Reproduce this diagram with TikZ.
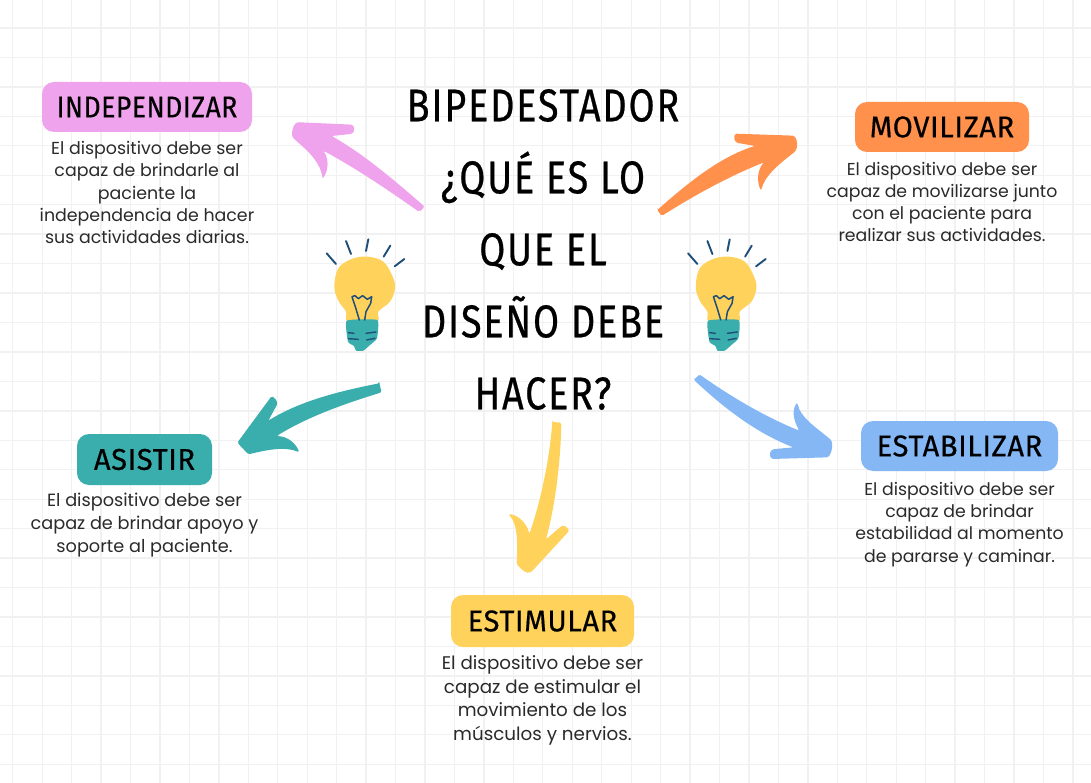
\documentclass[tikz,border=0pt]{standalone}
\usepackage{fontspec}
\setmainfont{Poppins}
\newfontfamily\headfont[FakeStretch=0.97,LetterSpace=2,FakeBold=0.5]{Fira Sans}
\newfontfamily\headnarrowfont[FakeStretch=0.88,LetterSpace=2,FakeBold=0.5]{Fira Sans}
\newfontfamily\titlefont[FakeStretch=0.82,LetterSpace=4,FakeBold=0.5]{Fira Sans}
\definecolor{gridc}{HTML}{F1F1F1}
\definecolor{pinkc}{HTML}{EFA3EC}
\definecolor{orangec}{HTML}{FF914D}
\definecolor{tealc}{HTML}{3AADAD}
\definecolor{yellowc}{HTML}{FFD25C}
\definecolor{bluec}{HTML}{85B7F5}
\definecolor{darkb}{HTML}{1F4E79}
\definecolor{bodyc}{HTML}{2A2A2A}
\tikzset{
  labelbox/.style={rounded corners=12pt,minimum height=50pt,inner sep=0pt,anchor=center,
    font=\headfont\fontsize{30}{30}\selectfont,text=black},
  bodytext/.style 2 args={align=center,font=\fontsize{#1}{#2}\selectfont,text=bodyc,inner sep=0pt,anchor=center},
  titletext/.style={align=center,font=\titlefont\fontsize{46}{72}\selectfont,text=black,inner sep=0pt,anchor=center},
  zoomed/.style={x=0.33333pt,y=-0.33333pt},
  raystroke/.style={draw=darkb,line width=1.9pt,line cap=round,line join=round},
  bulbicon/.pic={
    \begin{scope}[zoomed]
      \fill[yellowc] plot[smooth cycle,tension=0.6] coordinates {(205,725) (198,695) (175,662) (163,620) (175,565) (215,537) (262,530) (310,545) (338,590) (345,625) (330,665) (295,695) (290,725)};
      \fill[tealc] plot[smooth cycle,tension=0.25] coordinates {(200,722) (292,720) (291,775) (270,795) (250,812) (228,812) (222,798) (204,785)};
      \draw[raystroke] (140,520) -- (168,552);
      \draw[raystroke] (198,483) -- (213,522);
      \draw[raystroke] (265,478) -- (258,513);
      \draw[raystroke] (331,497) -- (311,530);
      \draw[raystroke] (373,537) -- (344,559);
      \draw[raystroke,line width=1.5pt] (238,720) -- (226,680) -- (216,650) -- (225,647) -- (235,656) -- (248,647) -- (262,658) -- (275,650) -- (272,670) -- (258,695) -- (254,720);
      \draw[raystroke,line width=1.4pt] (205,758) -- (222,760);
      \draw[raystroke,line width=1.4pt] (258,760) -- (288,756);
      \draw[raystroke,line width=1.4pt] (205,776) -- (235,778);
      \draw[raystroke,line width=1.4pt] (260,780) -- (285,775);
    \end{scope}
  }
}
\begin{document}
\begin{tikzpicture}[x=1pt,y=-1pt]
\useasboundingbox (0,0) rectangle (1091,783);
\fill[white] (0,0) rectangle (1091,783);
% grid
\foreach \i in {0,...,36} \draw[gridc,line width=1.3pt] ({12.7+29.45*\i},0) -- ({12.7+29.45*\i},783);
\foreach \i in {0,...,25} \draw[gridc,line width=1.3pt] (0,{28+29.45*\i}) -- (1091,{28+29.45*\i});
% title
\node[titletext] (title) at (543,249.5) {BIPEDESTADOR\\¿QUÉ ES LO\\QUE EL\\DISEÑO DEBE\\HACER?};
% boxes
\node[labelbox,fill=pinkc,minimum width=210pt,font=\headnarrowfont\fontsize{30}{30}\selectfont] (indep) at (147,107) {INDEPENDIZAR};
\node[labelbox,fill=orangec,minimum width=174pt] (movil) at (942,127) {MOVILIZAR};
\node[labelbox,fill=tealc,minimum width=135pt,minimum height=51pt] (asist) at (144.5,459.5) {ASISTIR};
\node[labelbox,fill=yellowc,minimum width=183pt,minimum height=52pt] (estim) at (542.5,621) {ESTIMULAR};
\node[labelbox,fill=bluec,minimum width=197pt] (estab) at (959.5,446) {ESTABILIZAR};
% body
\node[bodytext={17.4}{22.2}] (tindep) at (147,192.5) {El dispositivo debe ser\\capaz de brindarle al\\paciente la\\independencia de hacer\\sus actividades diarias.};
\node[bodytext={17.3}{22}] (tmovil) at (942,201.5) {El dispositivo debe ser\\capaz de movilizarse junto\\con el paciente para\\realizar sus actividades.};
\node[bodytext={17.7}{23}] (tasist) at (144.5,525.5) {El dispositivo debe ser\\capaz de brindar apoyo y\\soporte al paciente.};
\node[bodytext={18.3}{23.7}] (testim) at (542.5,700.5) {El dispositivo debe ser\\capaz de estimular el\\movimiento de los\\músculos y nervios.};
\node[bodytext={17.3}{22.3}] (testab) at (959.5,524.5) {El dispositivo debe ser\\capaz de brindar\\estabilidad al momento\\de pararse y caminar.};
% arrows
\begin{scope}[shift={(280,80)},zoomed]
\fill[pinkc,rounded corners=1.5pt] (418,396) -- (434,380)
  .. controls (340,298) and (250,222) .. (155,168)
  -- (212,162) .. controls (222,158) and (224,145) .. (218,134)
  -- (60,127) .. controls (45,127) and (36,140) .. (36,170)
  .. controls (60,195) and (120,235) .. (128,297)
  .. controls (148,265) and (145,235) .. (130,212)
  .. controls (230,266) and (330,334) .. cycle;
\end{scope}
\begin{scope}[shift={(640,120)},zoomed]
\fill[orangec,rounded corners=1.5pt] (52,270) -- (65,288)
  .. controls (160,228) and (260,172) .. (372,127)
  .. controls (352,150) and (350,185) .. (363,212)
  .. controls (375,165) and (420,130) .. (465,95)
  .. controls (474,80) and (472,60) .. (462,47)
  -- (285,41) .. controls (281,55) and (284,68) .. (300,70)
  -- (345,78) .. controls (240,110) and (140,192) .. cycle;
\end{scope}
\begin{scope}[shift={(680,230)},zoomed]
\fill[bluec,rounded corners=1.5pt] (42,450) -- (58,433)
  .. controls (150,498) and (250,558) .. (358,602)
  .. controls (340,570) and (335,540) .. (352,517)
  .. controls (360,565) and (420,600) .. (455,632)
  .. controls (458,650) and (456,665) .. (445,682)
  -- (275,687) .. controls (267,675) and (270,660) .. (285,657)
  -- (340,652) .. controls (225,607) and (130,532) .. cycle;
\end{scope}
\begin{scope}[shift={(220,370)},zoomed]
\fill[tealc,rounded corners=1.5pt] (478,40) -- (485,67)
  .. controls (370,102) and (260,142) .. (170,198)
  .. controls (200,200) and (225,215) .. (238,247)
  .. controls (195,228) and (140,240) .. (85,253)
  -- (52,218) -- (155,78)
  .. controls (172,90) and (175,100) .. (165,115)
  -- (145,152) .. controls (240,93) and (360,63) .. cycle;
\end{scope}
\begin{scope}[shift={(490,410)},zoomed]
\fill[yellowc,rounded corners=1.5pt] (187,36) -- (214,38)
  .. controls (212,150) and (197,280) .. (168,388)
  -- (212,350) .. controls (222,345) and (232,352) .. (238,362)
  -- (125,485) .. controls (110,492) and (95,480) .. (80,462)
  .. controls (82,400) and (85,345) .. (55,312)
  .. controls (85,315) and (110,340) .. (118,372)
  .. controls (153,270) and (178,150) .. cycle;
\end{scope}
% bulbs
\pic (bulbA) at (280,80) {bulbicon};
\pic (bulbB) at (641.4,80) {bulbicon};
\end{tikzpicture}
\end{document}
